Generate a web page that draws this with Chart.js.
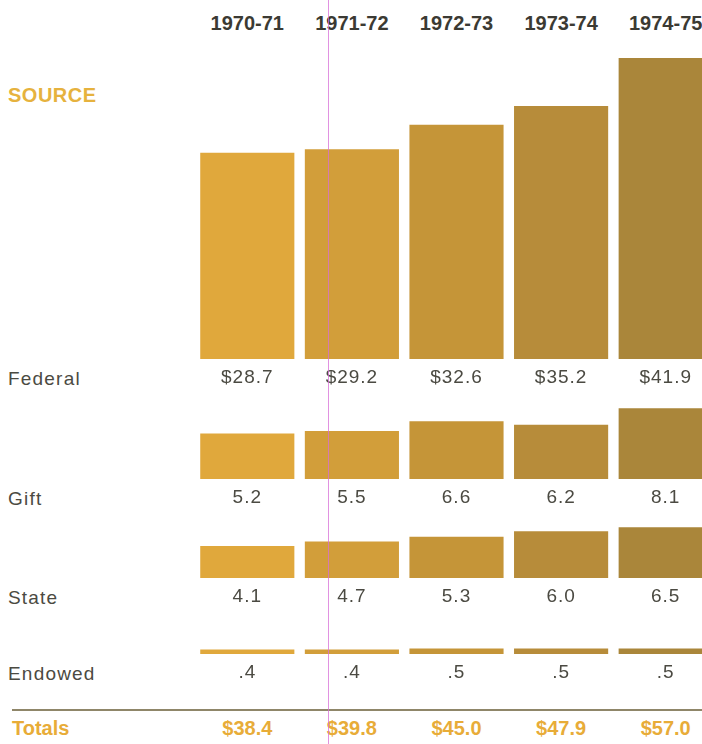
<!DOCTYPE html>
<html>
<head>
<meta charset="utf-8">
<script src="https://cdn.jsdelivr.net/npm/chart.js@4"></script>
<style>
html,body{margin:0;padding:0;width:702px;height:744px;overflow:hidden;background:#fff;}
body{position:relative;font-family:"Liberation Sans",Arial,sans-serif;}
canvas{position:absolute;left:195px;}
.lbl{position:absolute;left:8px;font-size:19px;line-height:19px;color:#4b4a42;letter-spacing:1.2px;white-space:nowrap;}
.head{position:absolute;font-size:20px;line-height:20px;font-weight:bold;white-space:nowrap;}
.year{top:13px;color:#3b3a33;transform:translateX(-50%);}
.tot{top:718px;color:#e8ac38;transform:translateX(-50%);}
#source{left:8px;top:85px;color:#e6b23e;letter-spacing:.5px;}
#totals{left:12px;top:718px;color:#e8ac38;}
#rule{position:absolute;left:12px;top:709px;width:690px;height:2px;background:#8f8669;}
#scan{position:absolute;left:328px;top:0;width:1px;height:744px;background:rgba(215,110,215,.75);z-index:5;}
</style>
</head>
<body>
<div id="source" class="head">SOURCE</div>
<div id="totals" class="head">Totals</div>
<div id="rule"></div>
<div id="scan"></div>
<script>
const years = ["1970-71","1971-72","1972-73","1973-74","1974-75"];
const federal = [28.7, 29.2, 32.6, 35.2, 41.9];
const gift = [5.2, 5.5, 6.6, 6.2, 8.1];
const state = [4.1, 4.7, 5.3, 6.0, 6.5];
const endowed = [0.4, 0.4, 0.5, 0.5, 0.5];
const totals = [38.4, 39.8, 45.0, 47.9, 57.0];

// one shade per year, getting browner to the right
const colColors = ["#e0a83c","#d29e3a","#c59538","#b78c3a","#aa863a"];

const W = 523;       // canvas width, the five year columns
const AXIS_H = 38;   // room under the bars for the value labels

// each row has its own value scale (top/bottom = plot area in page px)
const rows = [
  {name:"Federal", values:federal, fmt:v=>"$"+v.toFixed(1), top:50,  bottom:359, max:43},
  {name:"Gift",    values:gift,    fmt:v=>v.toFixed(1),     top:389, bottom:479, max:10.3},
  {name:"State",   values:state,   fmt:v=>v.toFixed(1),     top:518, bottom:578, max:7.7},
  {name:"Endowed", values:endowed, fmt:v=>v.toFixed(1).replace(/^0/,""), top:614, bottom:654, max:3.6}
];

const spacing = {
  id:"spacing",
  beforeDraw(chart){ chart.ctx.letterSpacing = "1px"; }
};

function makeRow(r){
  let c = document.createElement("canvas");
  c.width = W;
  c.height = r.bottom - r.top + AXIS_H;
  c.style.top = r.top + "px";
  document.body.appendChild(c);

  let lbl = document.createElement("div");
  lbl.className = "lbl";
  lbl.textContent = r.name;
  lbl.style.top = (r.bottom + 9.5) + "px";
  document.body.appendChild(lbl);

  return new Chart(c, {
    type:"bar",
    data:{
      labels:years,
      datasets:[{
        data:r.values,
        backgroundColor:colColors,
        borderWidth:0,
        barPercentage:0.9,
        categoryPercentage:1
      }]
    },
    options:{
      responsive:false,
      animation:false,
      events:[],
      layout:{padding:0},
      plugins:{legend:{display:false}, tooltip:{enabled:false}},
      scales:{
        x:{
          grid:{display:false, drawTicks:false},
          border:{display:false},
          ticks:{
            padding:8,
            color:"#4b4a42",
            font:{family:"'Liberation Sans', Arial, sans-serif", size:19, lineHeight:"22px"},
            callback:(v,i)=>r.fmt(r.values[i])
          }
        },
        y:{display:false, min:0, max:r.max}
      }
    },
    plugins:[spacing]
  });
}

let charts = rows.map(makeRow);

// year headings and totals sit on the same column centres as the bars
let xs = charts[0].scales.x;
years.forEach((y,i)=>{
  let cx = 195 + xs.getPixelForValue(i);
  let d = document.createElement("div");
  d.className = "head year";
  d.textContent = y;
  d.style.left = cx + "px";
  document.body.appendChild(d);

  let t = document.createElement("div");
  t.className = "head tot";
  t.textContent = "$" + totals[i].toFixed(1);
  t.style.left = cx + "px";
  document.body.appendChild(t);
});
</script>
</body>
</html>
